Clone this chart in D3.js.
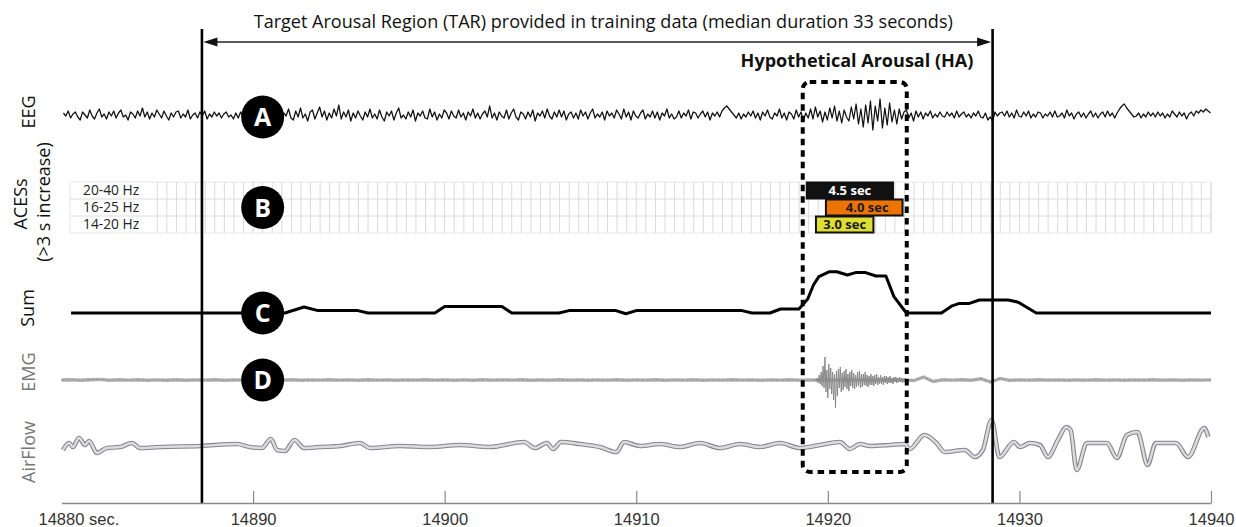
<!DOCTYPE html>
<html><head><meta charset="utf-8">
<script src="https://cdn.jsdelivr.net/npm/d3@7"></script>
<style>body{margin:0;background:#fff} svg{display:block}</style>
</head><body>
<svg id="c" width="1236" height="527"></svg>
<script>
// ---------------- DATA ----------------
const xTickValues = [14880, 14890, 14900, 14910, 14920, 14930, 14940];
const xTickLabels = ["14880 sec.", "14890", "14900", "14910", "14920", "14930", "14940"];

const tarStart = 14887.33, tarEnd = 14928.6;
const haStart = 14918.69, haEnd = 14924.12;
const titleText = "Target Arousal Region (TAR) provided in training data (median duration 33 seconds)";
const haText = "Hypothetical Arousal (HA)";

const channelNames = ["EEG", "ACESs", "Sum", "EMG", "AirFlow"];
const circleLetters = ["A", "B", "C", "D"];
const circleTime = 14890.5;

// ACES rows and detections
const aceRows = ["20-40 Hz", "16-25 Hz", "14-20 Hz"];
const aceStart = [14918.9, 14919.9, 14919.38];
const aceDur = [4.5, 4.0, 3.0];
const aceLabels = ["4.5 sec", "4.0 sec", "3.0 sec"];

// EEG (8 samples per second, starting 14880.1)
const eegStart = 14880.1, eegRate = 8;
const eegValues = [
 2,-1,4,-3,1,3,-2,-5,  3,0,-3,5,-1,-4,2,6,  -2,1,-4,3,-1,4,-3,2,  5,-2,0,-5,3,1,-3,4,
 -1,7,-2,3,-4,2,-2,5,  1,-3,4,-1,-5,2,-2,3,  4,-3,1,-2,5,-4,0,2,  -3,3,-1,4,-4,1,-2,3,
 -1,2,-3,1,3,-2,0,-4,  2,-3,3,-2,1,-5,-3,-6,  -8,-5,-7,-4,-6,-2,-5,0,  3,-2,5,-4,2,-1,6,-3,
 -5,4,-2,7,-3,1,-6,3,  5,-4,2,8,-2,4,-5,2,  -3,6,-1,10,-4,3,-2,5,  -6,2,-3,4,-1,-5,3,-2,
 6,-3,1,-4,5,-2,-6,3,  -1,4,-5,2,7,-3,0,-4,  3,-2,5,-6,2,-1,4,-3,  -4,6,-2,3,-5,1,-3,5,
 2,-4,4,-1,-3,5,-2,2,  -5,3,-1,6,-3,2,-4,1,  4,-2,9,-3,2,-5,3,-1,  -3,5,-4,2,6,-2,-5,3,
 1,-4,3,-2,5,-6,2,-1,  4,-3,6,-1,-4,3,-2,5,  -2,4,-5,1,3,-3,2,-4,  5,-1,3,-4,2,6,-3,1,
 -2,3,-5,4,-1,2,-3,5,  1,-4,6,-2,3,-5,4,-1,  -3,2,5,-4,1,-2,4,-3,  3,-5,2,-1,6,-3,1,-4,
 -2,4,-3,2,-1,5,-4,3,  2,-3,1,4,-2,3,-5,2,  -1,3,-2,4,7,9,6,3,  0,-3,2,-4,1,-2,3,-1,
 4,-3,2,-5,3,-1,5,-2,  -4,2,-1,6,-3,2,-5,3,  1,-4,5,-2,3,-6,2,-3,  6,-4,8,-2,4,-7,3,-5,
 7,-3,9,-6,4,-8,5,-2,  -6,8,-4,11,-9,6,-12,10,  -8,14,-15,9,-6,16,-13,7,  -10,12,-7,5,-9,6,-4,3,
 5,-3,2,-6,4,-2,3,-4,  2,-1,4,-3,1,-2,3,-1,  -2,3,-1,2,-3,4,-2,1,  3,-2,1,-3,2,-1,4,-2,
 -3,2,-5,-2,-6,3,-1,2,  3,-1,4,-2,2,-3,5,-1,  -2,3,-1,4,-3,1,-2,3,  2,-3,1,-1,3,-2,4,-2,
 -1,2,-3,5,-1,2,-4,1,  3,-2,2,-3,1,4,-2,2,  -3,1,3,-2,4,-1,2,-3,  2,6,9,11,7,4,1,-2,
 -1,2,-3,1,-2,3,-1,2,  -2,3,-1,2,-3,1,-2,4,  1,-2,3,-1,2,-4,1,3,  -1,4,2,5,3,6,4,2
];

// Sum of ACES (time, value)
const sumT = [14880.5,14891.66,14892.66,14893.39,14895.47,14896.0,14899.49,14900.0,14902.99,14903.5,14905.97,14906.49,14908.94,14909.46,14910.0,14915.52,14916.04,14916.98,14917.53,14918.49,14918.95,14919.25,14919.53,14920.06,14920.47,14921.02,14921.45,14921.97,14922.51,14923.03,14923.45,14924.1,14925.93,14926.45,14926.87,14927.39,14927.91,14929.42,14929.94,14930.88,14940];
const sumV = [0,0,1.5,0.6,0.6,0,0,1.6,1.6,0,0,0.6,0.6,-0.2,0.6,0.6,0,0,1.0,1.0,3.5,7.0,9.1,10.3,10.3,9.5,10.1,10.1,9.25,9.25,4.1,0,0,1.7,2.4,2.4,3.25,3.25,2.7,0,0];

// EMG background (2 samples per second from 14880)
const emgStart = 14880, emgRate = 2;
const emgValues = [
 0,0.2,-0.2,0.3,0.6,-0.2,0.2,-0.1,0.2,-0.2,
 0.1,-0.2,0.2,-0.2,0.1,-0.1,0.2,-0.2,0.1,-0.1,
 0.2,-0.2,0.1,-0.1,0.2,-0.2,0.1,-0.1,0.2,-0.1,
 0.1,-0.2,0.2,-0.1,0.1,-0.2,0.1,-0.1,0.2,-0.1,
 0.1,-0.2,0.1,-0.2,0.2,-0.1,0.1,-0.1,0.2,-0.2,
 0.1,-0.1,0.2,-0.1,0.1,-0.2,0.1,-0.1,0.2,-0.2,
 0.1,-0.1,0.2,-0.2,0.1,-0.1,0.2,-0.2,0.1,-0.1,
 0.2,-0.1,0.1,-0.2,0.1,-0.1,0.2,-0.1,0.1,-0.2,
 0.1,-0.1,0.2,-0.1,0.1,-0.2,0.1,-0.1,0.2,-0.6,
 3,-1.5,0.2,-0.1,0.2,-0.2,1.2,-2,1.5,-0.3,
 0.1,-0.1,0.2,-0.1,0.1,-0.2,0.1,-0.1,0.2,-0.1,
 0.1,-0.2,0.1,-0.1,0.2,-0.1,0.1,-0.2,0.1,-0.1,
 0.1
];
// EMG burst during HA (20 samples per second from 14919.3)
const burstStart = 14919.3, burstRate = 20;
const burstValues = [
 0,1,-1,2,-3,5,-4,8,-6,14,
 -8,23,-12,10,-18,16,-9,12,-14,8,
 -20,6,-28,9,-16,11,-8,13,-12,7,
 -10,9,-7,11,-9,6,-11,8,-6,10,
 -8,7,-9,5,-7,8,-6,9,-8,6,
 -7,6,-5,8,-6,5,-7,4,-5,6,
 -5,4,-6,5,-4,6,-5,3,-4,5,
 -4,3,-5,4,-3,4,-4,3,-3,4,
 -3,2,-4,3,-2,3,-3,2,-2,3,
 -2,2,-3,1,-2,2,-1,1,-1,0
];

// AirFlow (time, value)
const airT = [14880.08,14880.39,14880.6,14880.91,14881.23,14881.44,14881.85,14882.37,14883.05,14883.68,14884.1,14885.14,14887.23,14889.16,14889.84,14890.46,14890.93,14891.25,14891.66,14892.16,14892.66,14893.49,14894.54,14895.58,14896.1,14897.67,14899.23,14900.8,14902.36,14904.14,14904.71,14905.34,14905.66,14906.07,14907.06,14908.1,14908.97,14909.36,14910.2,14911.24,14912.28,14913.32,14914.37,14915.41,14916.46,14917.5,14918.54,14919.59,14920.63,14921.15,14921.67,14922.19,14923.23,14924.01,14924.27,14925.04,14925.67,14926.1,14927.15,14927.67,14928.09,14928.54,14928.96,14929.71,14930.03,14930.55,14931.07,14931.49,14932.01,14932.45,14932.67,14932.99,14933.52,14934.57,14935.09,14935.61,14936.16,14936.69,14937.12,14938.17,14938.8,14939.65,14939.86];
const airV = [-2,5,1,10,3,7,-5,0,1,5,0,1,2,4,1,0,9,-2,-3,8,0,1,2,5,0,2,1,3,1,6,0,5,-1,6,4,1,-4,6,2,4,1,5,0,4,1,5,0,3,6,-1,4,2,3,4,-1,13,5,-4,-2,-9,-2,28,-9,6,1,5,3,-9,8,21,18,-22,5,5,-10,13,16,-17,5,5,-9,20,11];

// ---------------- DRAW ----------------
const svg = d3.select("#c");
const x = d3.scaleLinear().domain([14880, 14940]).range([61.5, 1211]);
const yEEG = d3.scaleLinear().domain([-20, 20]).range([135, 95]);
const ySum = d3.scaleLinear().domain([0, 10]).range([313, 273]);
const yEMG = d3.scaleLinear().domain([-25, 25]).range([405, 355]);
const yAir = d3.scaleLinear().domain([-30, 30]).range([478, 418]);
const yRow = d3.scaleBand().domain(aceRows).range([182, 233]);

const SANS = "'Open Sans', 'Noto Sans', sans-serif";

function fit(sel, w) {
  const L = sel.node().getComputedTextLength();
  const fs = parseFloat(sel.attr("font-size"));
  sel.attr("font-size", fs * w / L);
}

// Grid for ACES
const gridL = 70, gridR = x(14940);
const g = svg.append("g");
g.append("rect").attr("x", gridL).attr("y", yRow.range()[0]).attr("width", gridR - gridL)
  .attr("height", yRow.range()[1] - yRow.range()[0]).attr("fill", "none").attr("stroke", "#e8e8e8");
g.selectAll("line.v").data(d3.range(14885, 14940.01, 0.5)).join("line")
  .attr("x1", d => x(d)).attr("x2", d => x(d))
  .attr("y1", yRow.range()[0]).attr("y2", yRow.range()[1])
  .attr("stroke", "#dadada").attr("stroke-width", 1);
g.selectAll("line.h").data(aceRows.slice(1)).join("line")
  .attr("x1", gridL).attr("x2", gridR)
  .attr("y1", d => yRow(d)).attr("y2", d => yRow(d))
  .attr("stroke", "#dcdcdc");
g.selectAll("text.hz").data(aceRows).join("text")
  .attr("x", 83).attr("y", d => yRow(d) + yRow.bandwidth() / 2 + 4.8)
  .attr("font-family", SANS).attr("font-size", 13.8).attr("fill", "#222")
  .text(d => d);

// ACES bars
const barFill = ["#111111", "#ec7404", "#dede34"];
const barText = ["#ffffff", "#1a1a1a", "#1a1a1a"];
const bars = svg.append("g");
aceRows.forEach((r, i) => {
  bars.append("rect").attr("x", x(aceStart[i])).attr("y", yRow(r) + 0.5)
    .attr("width", x(aceStart[i] + aceDur[i]) - x(aceStart[i])).attr("height", yRow.bandwidth() - 1)
    .attr("fill", barFill[i]).attr("stroke", "#111").attr("stroke-width", 2);
  bars.append("text").attr("x", (x(aceStart[i]) + x(aceStart[i] + aceDur[i])) / 2 + (i === 1 ? 3 : 0))
    .attr("y", yRow(r) + yRow.bandwidth() / 2 + 4.6)
    .attr("text-anchor", "middle").attr("font-family", SANS).attr("font-weight", "bold")
    .attr("font-size", 13).attr("fill", barText[i]).text(aceLabels[i]);
});

// EEG trace
const eegPts = eegValues.map((v, i) => [eegStart + i / eegRate, v]);
svg.append("path").attr("d", d3.line().x(d => x(d[0])).y(d => yEEG(d[1]))(eegPts))
  .attr("fill", "none").attr("stroke", "#111").attr("stroke-width", 1.25).attr("stroke-linejoin", "round");

// Sum trace
svg.append("path").attr("d", d3.line().x((d, i) => x(sumT[i])).y((d, i) => ySum(sumV[i]))(sumT))
  .attr("fill", "none").attr("stroke", "#000").attr("stroke-width", 3).attr("stroke-linejoin", "round");

// EMG trace
const emgPts = emgValues.map((v, i) => [emgStart + i / emgRate, v]);
const emgLine = d3.line().x(d => x(d[0])).y(d => yEMG(d[1]));
svg.append("path").attr("d", emgLine(emgPts)).attr("fill", "none")
  .attr("stroke", "#b0b0b0").attr("stroke-width", 3.4);
svg.append("path").attr("d", emgLine(emgPts)).attr("fill", "none")
  .attr("stroke", "#909090").attr("stroke-width", 0.8).attr("stroke-dasharray", "3 2");
const burstPts = burstValues.map((v, i) => [burstStart + i / burstRate, v]);
svg.append("path").attr("d", emgLine(burstPts)).attr("fill", "none")
  .attr("stroke", "#8a8a8a").attr("stroke-width", 1).attr("stroke-linejoin", "round");

// AirFlow trace (double line)
const airLine = d3.line().x((d, i) => x(airT[i])).y((d, i) => yAir(airV[i])).curve(d3.curveMonotoneX);
svg.append("path").attr("d", airLine(airT)).attr("fill", "none")
  .attr("stroke", "#85858a").attr("stroke-width", 4.6).attr("stroke-linejoin", "round");
svg.append("path").attr("d", airLine(airT)).attr("fill", "none")
  .attr("stroke", "#dcdce0").attr("stroke-width", 2.4).attr("stroke-linejoin", "round");

// TAR lines and arrow
[tarStart, tarEnd].forEach(t => {
  svg.append("line").attr("x1", x(t)).attr("x2", x(t)).attr("y1", 29).attr("y2", 503)
    .attr("stroke", "#000").attr("stroke-width", 2.6);
});
const ay = 42;
svg.append("line").attr("x1", x(tarStart) + 4).attr("x2", x(tarEnd) - 4).attr("y1", ay).attr("y2", ay)
  .attr("stroke", "#222").attr("stroke-width", 1.6);
svg.append("path").attr("d", `M${x(tarStart) + 1.5},${ay} l14,-4.5 l0,9 z`).attr("fill", "#111");
svg.append("path").attr("d", `M${x(tarEnd) - 1.5},${ay} l-14,-4.5 l0,9 z`).attr("fill", "#111");

const title = svg.append("text").attr("x", (x(tarStart) + x(tarEnd)) / 2 + 6).attr("y", 28)
  .attr("text-anchor", "middle").attr("font-family", SANS).attr("font-size", 17)
  .attr("fill", "#111").text(titleText);
fit(title, 700);

// HA box
svg.append("rect").attr("x", x(haStart)).attr("y", 82).attr("width", x(haEnd) - x(haStart)).attr("height", 390)
  .attr("rx", 7).attr("fill", "none").attr("stroke", "#000").attr("stroke-width", 4)
  .attr("stroke-dasharray", "6.5 5");
const ha = svg.append("text").attr("x", 857).attr("y", 67).attr("text-anchor", "middle")
  .attr("font-family", SANS).attr("font-weight", "bold").attr("font-size", 17)
  .attr("fill", "#111").text(haText);
fit(ha, 233);

// Circles with letters
const circleY = [yEEG(0) + 2, yRow(aceRows[1]) + yRow.bandwidth() / 2, ySum(0), yEMG(0)];
circleLetters.forEach((L, i) => {
  svg.append("circle").attr("cx", x(circleTime)).attr("cy", circleY[i]).attr("r", 21.5).attr("fill", "#000");
  svg.append("text").attr("x", x(circleTime)).attr("y", circleY[i]).attr("dy", "0.36em")
    .attr("text-anchor", "middle").attr("font-family", SANS).attr("font-weight", "bold")
    .attr("font-size", 25).attr("fill", "#fff").text(L);
});

// Channel labels (rotated)
const labSpecs = [
  {t: channelNames[0], x: 35, y: 112, c: "#111"},
  {t: channelNames[1], x: 27, y: 204, c: "#111"},
  {t: "(>3 s increase)", x: 50, y: 202, c: "#111"},
  {t: channelNames[2], x: 34, y: 308, c: "#111"},
  {t: channelNames[3], x: 35, y: 372, c: "#777"},
  {t: channelNames[4], x: 35, y: 452, c: "#777"}
];
labSpecs.forEach(s => {
  svg.append("text").attr("transform", `translate(${s.x},${s.y}) rotate(-90)`)
    .attr("text-anchor", "middle").attr("font-family", SANS).attr("font-size", 18)
    .attr("fill", s.c).text(s.t);
});

// X axis
const axis = d3.axisBottom(x).tickValues(xTickValues).tickFormat((d, i) => xTickLabels[i])
  .tickSizeInner(-12).tickSizeOuter(0).tickPadding(10);
const ax = svg.append("g").attr("transform", "translate(0,503)").call(axis);
ax.select(".domain").attr("stroke", "#8a8a8a").attr("stroke-width", 1.5);
ax.selectAll(".tick line").attr("stroke", "#8a8a8a").attr("stroke-width", 1.2);
ax.selectAll(".tick text").attr("font-family", "'Liberation Sans', Arial, sans-serif")
  .attr("font-size", 16.5).attr("fill", "#333");
ax.selectAll(".tick").filter(d => d === 14880).select("line").attr("stroke-opacity", 0);
ax.selectAll(".tick").filter(d => d === 14880).select("text").attr("text-anchor", "start").attr("x", -23.5);
</script></body></html>
